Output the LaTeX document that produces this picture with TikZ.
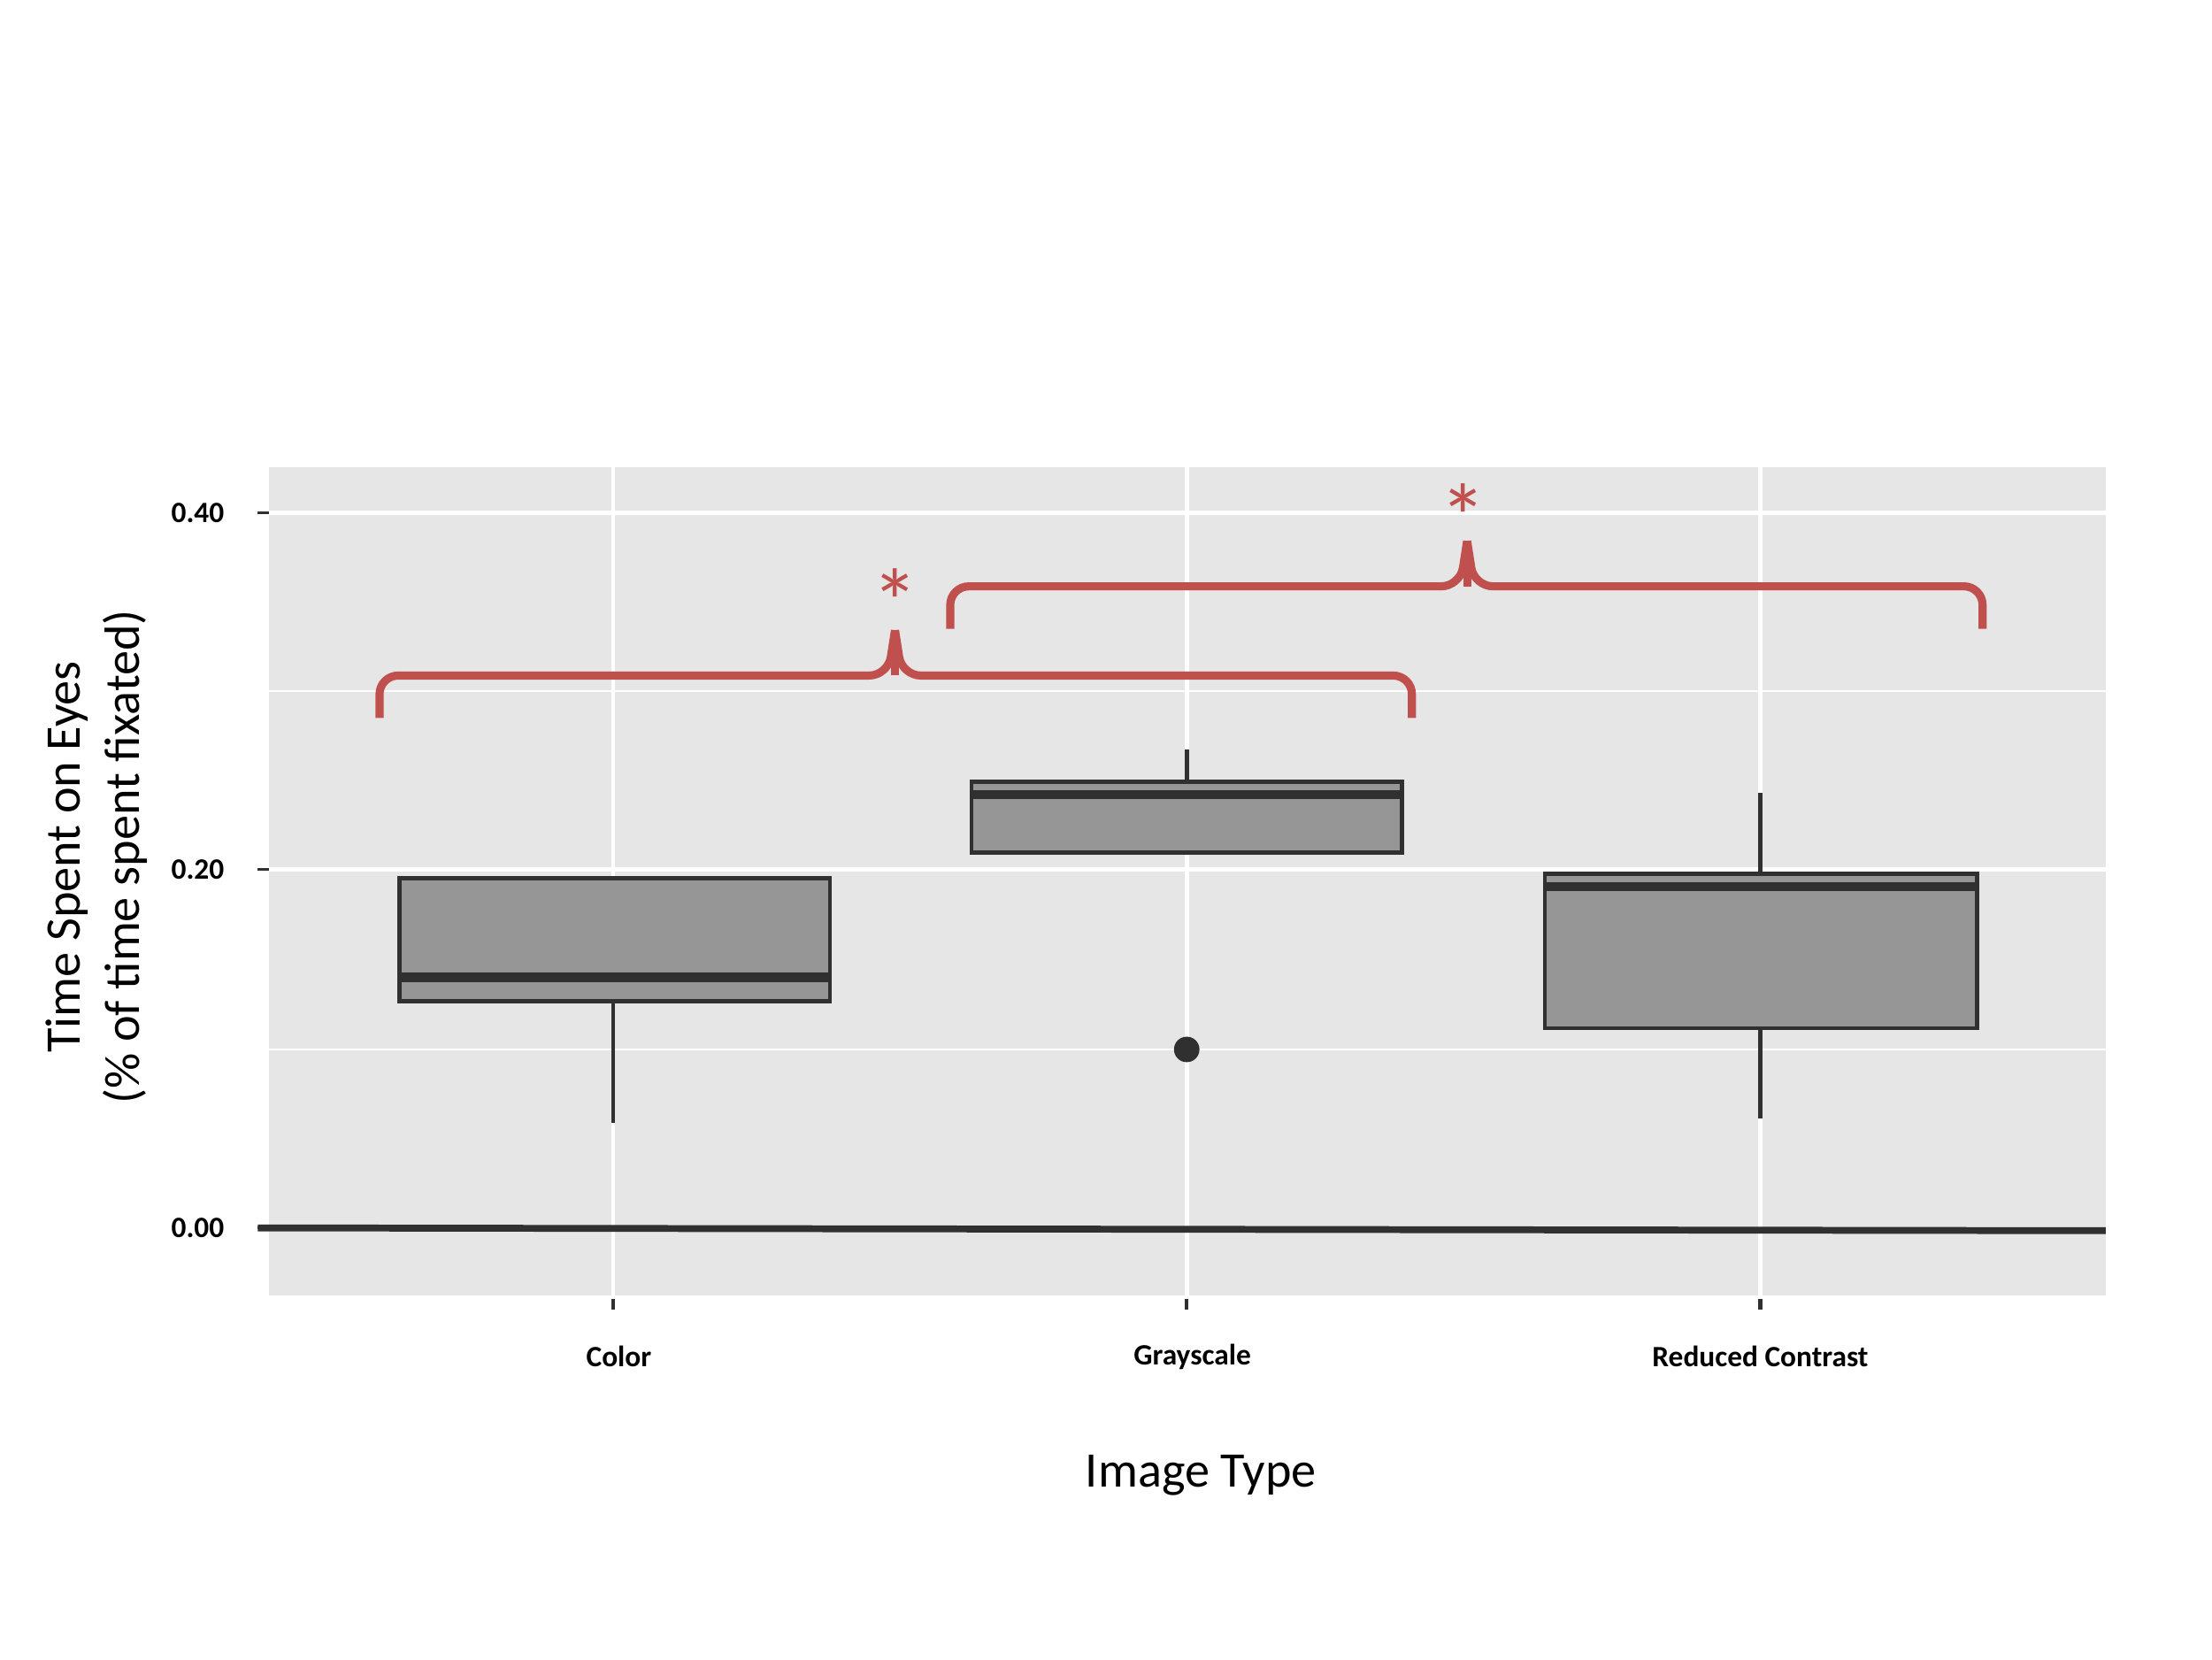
\documentclass[tikz,border=0pt]{standalone}
\usepackage{fontspec}
\setmainfont{Carlito}
\definecolor{panel}{HTML}{E6E6E6}
\definecolor{boxfill}{HTML}{969696}
\definecolor{boxline}{HTML}{303030}
\definecolor{sigred}{HTML}{C0504D}
\begin{document}
\begin{tikzpicture}[x=0.016cm,y=-0.016cm,
  grid/.style={white,line width=1.3pt},
  minorgrid/.style={white,line width=0.7pt},
  boxst/.style={fill=boxfill,draw=boxline,line width=1.3pt},
  med/.style={boxline,line width=3pt},
  whisk/.style={boxline,line width=1.3pt},
  brace/.style={sigred,line width=2.6pt,rounded corners=6pt},
  ticklab/.style={font=\bfseries\fontsize{9.5}{11}\selectfont,anchor=east},
  xlab/.style={font=\bfseries\fontsize{9.5}{11}\selectfont},
  star/.style={sigred,font=\fontsize{30}{30}\selectfont}]
\useasboundingbox (0,0) rectangle (1562,1172);
\fill[panel] (190,330) rectangle (1487,915);
\foreach \y in {488,741} \draw[minorgrid] (190,\y) -- (1487,\y);
\foreach \y in {362,614} \draw[grid] (190,\y) -- (1487,\y);
\foreach \x in {433,838,1243} \draw[grid] (\x,330) -- (\x,915);
\draw[boxline,line width=2.2pt] (182,867) -- (1487,869);
\foreach \y/\t in {362/0.40,614/0.20,867/0.00} {
  \draw[boxline,line width=1pt] (182,\y) -- (190,\y);
  \node[ticklab] (t\t) at (166,\y) {\t};}
\foreach \x in {433,838,1243} \draw[boxline,line width=1.2pt] (\x,917) -- (\x,925);
% Color
\draw[whisk] (433,707) -- (433,793);
\node[boxst,minimum width=304*0.016cm,minimum height=87*0.016cm,inner sep=0pt] (b1) at (434,663.5) {};
\draw[med] (b1.west |- 0,690) -- (b1.east |- 0,690);
% Grayscale
\draw[whisk] (838,529) -- (838,552);
\node[boxst,minimum width=304*0.016cm,minimum height=50*0.016cm,inner sep=0pt] (b2) at (838,577) {};
\draw[med] (b2.west |- 0,561) -- (b2.east |- 0,561);
\fill[boxline] (838,741) circle (9);
% Reduced
\draw[whisk] (1243,560) -- (1243,617);
\draw[whisk] (1243,726) -- (1243,790);
\node[boxst,minimum width=305*0.016cm,minimum height=109*0.016cm,inner sep=0pt] (b3) at (1243.5,671.5) {};
\draw[med] (b3.west |- 0,626) -- (b3.east |- 0,626);
% braces
\draw[brace] (268,507) -- (268,477) -- (627,477) -- (632,445);
\draw[brace] (997,507) -- (997,477) -- (637,477) -- (632,445);
\draw[sigred,line width=2.6pt] (632,477) -- (632,445);
\draw[brace] (671,444) -- (671,414) -- (1031,414) -- (1036,382);
\draw[brace] (1400,444) -- (1400,414) -- (1041,414) -- (1036,382);
\draw[sigred,line width=2.6pt] (1036,414) -- (1036,382);
\node[star] (s1) at (632,425) {*};
\node[star] (s2) at (1033,365) {*};
% labels
\node[xlab] (l1) at (437,958) {Color};
\node[xlab] (l2) at (842,958) {Grayscale};
\node[xlab] (l3) at (1243,958) {Reduced Contrast};
\node[font=\fontsize{16}{19}\selectfont] (xt) at (848,1042) {Image Type};
\node[font=\fontsize{16}{19}\selectfont,rotate=90,align=center] (yt) at (68,605) {Time Spent on Eyes\\(\% of time spent fixated)};
\end{tikzpicture}
\end{document}
